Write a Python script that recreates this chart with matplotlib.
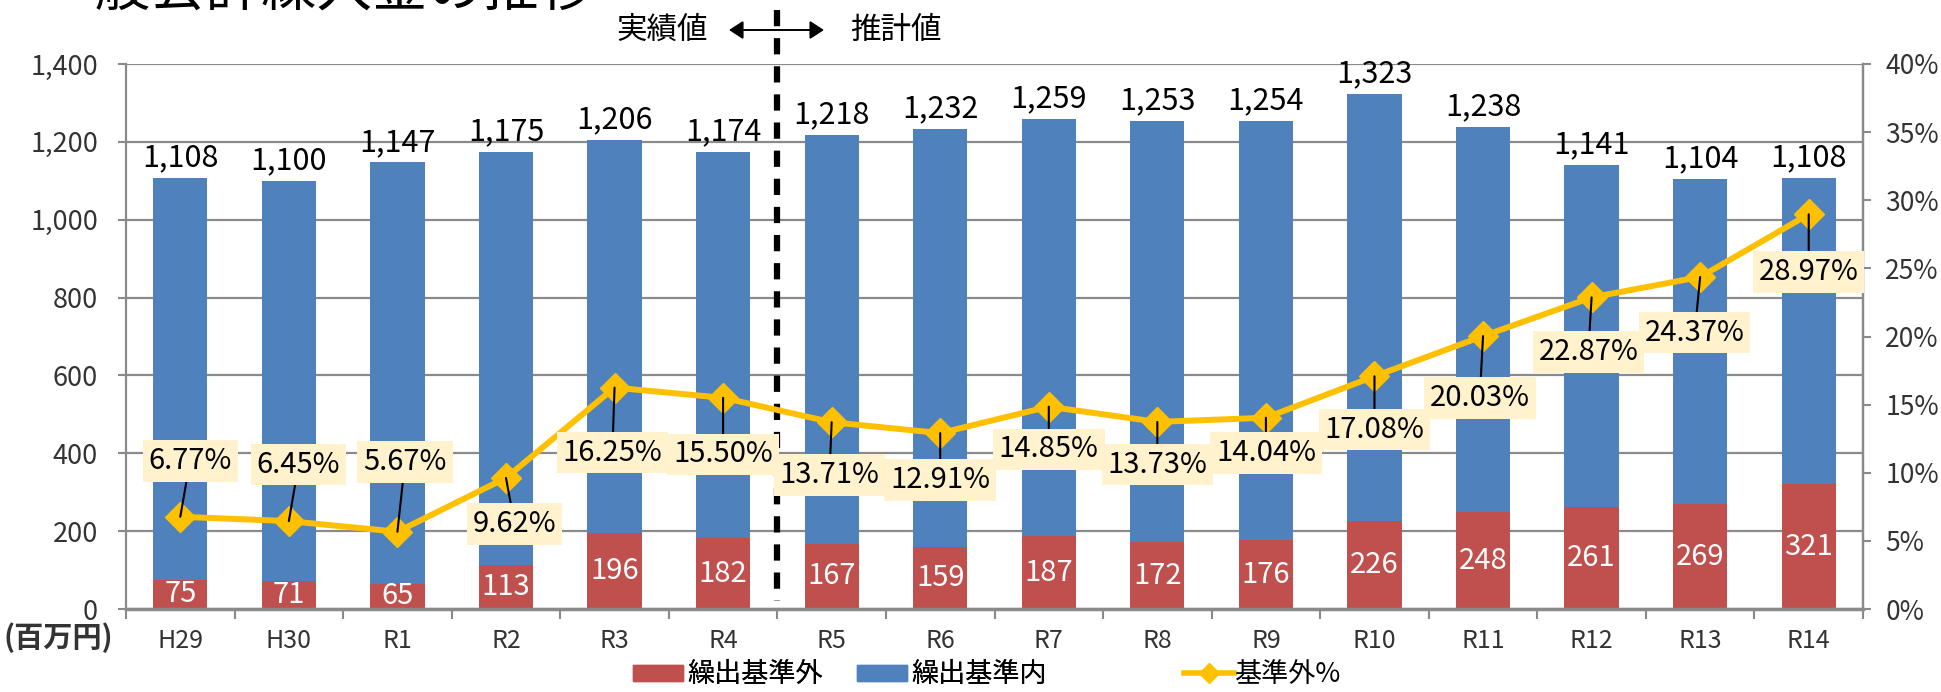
import numpy as np
import matplotlib
matplotlib.use("Agg")
from matplotlib import pyplot as plt
from matplotlib.lines import Line2D
from matplotlib.patches import Patch, FancyArrowPatch
from matplotlib.ticker import FuncFormatter, FixedLocator

plt.rcParams['font.family'] = ['Noto Sans CJK JP', 'DejaVu Sans']

# データ
years = ["H29", "H30", "R1", "R2", "R3", "R4", "R5", "R6",
         "R7", "R8", "R9", "R10", "R11", "R12", "R13", "R14"]
total = [1108, 1100, 1147, 1175, 1206, 1174, 1218, 1232,
         1259, 1253, 1254, 1323, 1238, 1141, 1104, 1108]
outside = [75, 71, 65, 113, 196, 182, 167, 159,
           187, 172, 176, 226, 248, 261, 269, 321]
pct = [6.77, 6.45, 5.67, 9.62, 16.25, 15.50, 13.71, 12.91,
       14.85, 13.73, 14.04, 17.08, 20.03, 22.87, 24.37, 28.97]
inside = [t - o for t, o in zip(total, outside)]

# ラベル位置 (x方向のずれ, 左軸の値)
label_pos = [(0.09, 380), (0.09, 371), (0.07, 377), (0.08, 218),
             (-0.02, 402), (0.0, 397), (-0.02, 345), (0.0, 332),
             (0.0, 410), (0.0, 371), (0.0, 400), (0.0, 461),
             (-0.03, 542), (-0.03, 661), (-0.05, 710), (0.0, 865)]

RED = '#C0504D'
BLUE = '#4F81BD'
GOLD = '#FFC000'
GRID = '#8a8a8a'

W, H = 1941, 692
fig = plt.figure(figsize=(W / 100, H / 100), dpi=100)
ax = fig.add_axes([126 / W, 83 / H, (1863 - 126) / W, (609 - 64) / H])
x = np.arange(len(years))

ax.bar(x, outside, width=0.5, color=RED, zorder=2)
ax.bar(x, inside, width=0.5, bottom=outside, color=BLUE, zorder=2)

ax.set_xlim(-0.5, len(years) - 0.5)
ax.set_ylim(0, 1400)
ax.set_yticks(range(0, 1401, 200))
ax.yaxis.set_major_formatter(FuncFormatter(lambda v, p: f"{int(v):,}"))
ax.yaxis.grid(True, color=GRID, lw=1.6)
ax.set_axisbelow(True)

ax.xaxis.set_major_locator(FixedLocator(np.arange(-0.5, len(years), 1)))
ax.xaxis.set_major_formatter(FuncFormatter(lambda v, p: ""))
ax.set_xticks(x, minor=True)
ax.set_xticklabels(years, minor=True)
ax.tick_params(axis='x', which='minor', length=0, pad=14, labelsize=18,
               labelcolor='#333333')
ax.tick_params(axis='x', which='major', length=7, width=1.5, color=GRID)
ax.tick_params(axis='y', length=6, width=1.5, color=GRID, pad=14, labelsize=19.5,
               labelcolor='#333333')

ax.spines['top'].set_visible(False)
for s in ['left', 'bottom', 'right']:
    ax.spines[s].set_color(GRID)
    ax.spines[s].set_linewidth(1.6)
ax.spines['bottom'].set_linewidth(2.5)

ax2 = ax.twinx()
ax2.set_ylim(0, 0.40)
ax2.set_yticks(np.arange(0, 0.401, 0.05))
ax2.yaxis.set_major_formatter(FuncFormatter(lambda v, p: f"{v * 100:.0f}%"))
ax2.tick_params(axis='y', length=6, width=1.5, color=GRID, pad=10, labelsize=19,
                labelcolor='#333333')
for s in ['top', 'left', 'bottom']:
    ax2.spines[s].set_visible(False)
ax2.spines['right'].set_color(GRID)
ax2.spines['right'].set_linewidth(1.6)

p = np.array(pct) / 100
ax2.plot(x, p, color=GOLD, lw=4.3, marker='D', markersize=15, zorder=3)

# 棒の上の合計値・繰出基準外の値
for i in x:
    ax.text(i, total[i] + 12, f"{total[i]:,}", ha='center', va='bottom',
            fontsize=22, color='black', zorder=5)
    ax.text(i, outside[i] / 2, str(outside[i]), ha='center', va='center',
            fontsize=21, color='white', zorder=5)

# 基準外%のラベル
for i in x:
    dx, ly = label_pos[i]
    ax2.annotate(f"{pct[i]:.2f}%", xy=(i, p[i]), xycoords='data',
                 xytext=(i + dx, ly), textcoords=ax.transData,
                 ha='center', va='center', fontsize=21, color='black',
                 bbox=dict(boxstyle='square,pad=0.2', fc='#FFF2CC', ec='none'),
                 arrowprops=dict(arrowstyle='-', color='black', lw=1.5,
                                 shrinkA=0, shrinkB=0),
                 zorder=6)

# 実績値と推計値の境界
top = (609 - 10) / 545 * 1400
ax.plot([5.5, 5.5], [top, 20], color='black', lw=4.5, ls=(0, (2.6, 1.9)),
        clip_on=False, zorder=7)
fig.text(662 / W, 1 - 30 / H, "実績値", ha='center', va='center', fontsize=22)
fig.text(896 / W, 1 - 30 / H, "推計値", ha='center', va='center', fontsize=22)
fig.patches.append(FancyArrowPatch(
    (729 / W, 1 - 30 / H), (824 / W, 1 - 30 / H), transform=fig.transFigure,
    arrowstyle='<|-|>,head_length=0.85,head_width=0.55', color='black', lw=1.4,
    mutation_scale=10, shrinkA=0, shrinkB=0))

# タイトル (上部が切れている)
fig.text(40 / W, 1 - 6 / H, "一般会計繰入金の推移", ha='left', va='baseline',
         fontsize=40)

fig.text(4 / W, 1 - 638 / H, "(百万円)", ha='left', va='center', fontsize=21,
         fontweight='bold', color='#333333')

# 凡例
leg1 = fig.legend(handles=[Patch(color=RED, label='繰出基準外'),
                           Patch(color=BLUE, label='繰出基準内')],
                  loc='center', bbox_to_anchor=(840 / W, 1 - 675 / H), ncol=2,
                  frameon=False, fontsize=19.5, handlelength=1.85, handleheight=0.52,
                  handletextpad=0.15, columnspacing=1.25, borderpad=0)
leg2 = fig.legend(handles=[Line2D([], [], color=GOLD, lw=4, marker='D',
                                  markersize=10, label='基準外%')],
                  loc='center', bbox_to_anchor=(1262 / W, 1 - 675 / H),
                  frameon=False, fontsize=19.5, handlelength=1.85,
                  handletextpad=0.0, borderpad=0)
fig.add_artist(leg1)

fig.savefig("out.png", dpi=100)
